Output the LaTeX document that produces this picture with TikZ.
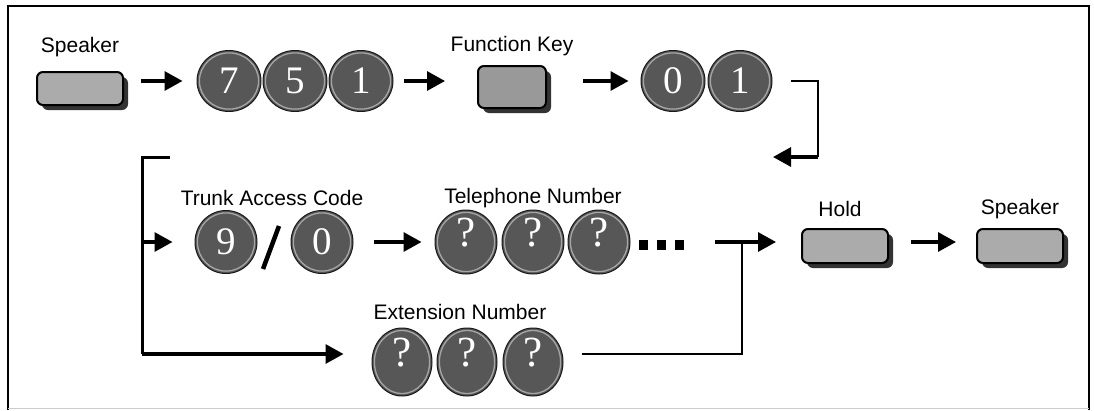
\documentclass[tikz,border=0pt]{standalone}
\usepackage{fontspec}
\newfontfamily\lblfont{Liberation Sans}
\newfontfamily\digfont{Liberation Serif}
\usetikzlibrary{shapes.geometric,arrows.meta,shadows,calc}
\newcommand\btnfont{\digfont\fontsize{39}{39}\selectfont}
\newcommand\qmark{\smash{\raisebox{-4pt}{\fontsize{43}{43}\selectfont ?}}}
\begin{document}
\begin{tikzpicture}[x=1pt,y=-1pt,
  lbl/.style={font=\lblfont\fontsize{21}{21}\selectfont, inner sep=0pt},
  key/.style 2 args={rectangle, rounded corners=6pt, minimum width=#1, minimum height=#2,
     inner sep=0pt, fill=black!33, draw=black, line width=2pt,
     drop shadow={shadow xshift=5pt, shadow yshift=-5pt, fill=black!80, opacity=1}},
  btn/.style 2 args={ellipse, minimum width=#1, minimum height=#2, inner sep=0pt,
     fill=black!66, draw=black!90, line width=1pt, text=white, font=\btnfont,
     path picture={\draw[black!35, line width=1.3pt] (path picture bounding box.center)
        ellipse [x radius={#1/2-2.4pt}, y radius={#2/2-2.4pt}];}},
  arr/.style={line width=3.2pt, -{Triangle[length=18pt,width=19pt]}},
  ln/.style={line width=2.4pt}
]
\useasboundingbox (0,0) rectangle (1094,410);
% frame
\draw[line width=2.8pt] (8,410) -- (8,6) -- (1089,6) -- (1089,410);
\draw[black!20, line width=1pt] (8,408.5) -- (1089,408.5);

% ---- top row
\node[lbl] (lspk1) at (80,47) {Speaker};
\node[key={86pt}{33pt}] (spk1) at (80,88.5) {};
\node[btn={64pt}{61pt}] (b7) at (229,81) {7};
\node[btn={64pt}{61pt}] (b5) at (295,81) {5};
\node[btn={64pt}{61pt}] (b1) at (361,81) {1};
\node[lbl] (lfk) at (512,46) {Function Key};
\node[key={68pt}{42pt}, fill=black!40] (fkey) at (512,87) {};
\node[btn={64pt}{61pt}] (c0) at (673,81) {0};
\node[btn={64pt}{61pt}] (c1) at (740,81) {1};

\draw[arr] ([xshift=17pt]spk1.east |- b7.west) -- ([xshift=-14pt]b7.west);
\draw[arr] ([xshift=10pt]b1.east) -- ([xshift=-32pt]b1.east -| fkey.west);
\draw[arr] ([xshift=36pt]fkey.east |- c0.west) -- ([xshift=-12pt]c0.west);

\coordinate (r1) at (818,157);
\coordinate (r2) at (773,157);
\draw[ln] ([xshift=18pt]c1.east) -| (r1);
\draw[arr] (r1) -- (r2);

% ---- left bracket
\coordinate (l1) at (170,157);
\coordinate (l2) at (142,157);
\coordinate (l3) at (142,354);
\coordinate (l4) at (142,242);
\draw[line width=3pt] (l1) -- (l2) -- (l3);

% ---- middle row
\node[lbl] (ltac) at (272,198) {Trunk Access Code};
\node[btn={62pt}{63pt}] (b9) at (226,242) {9};
\coordinate (s1) at (263,269);
\coordinate (s2) at (279,226);
\draw[line width=4.5pt] (s1) -- (s2);
\node[btn={62pt}{63pt}] (b0) at (322,242) {0};
\node[lbl] (ltel) at (533,198) {Telephone Number};
\node[btn={62pt}{64pt}] (q1) at (466,242) {\qmark};
\node[btn={62pt}{64pt}] (q2) at (533,242) {\qmark};
\node[btn={62pt}{64pt}] (q3) at (599,242) {\qmark};
\fill (638.5,240) rectangle ++(9.5,9.5);
\fill (656.5,240) rectangle ++(9.5,9.5);
\fill (674.5,240) rectangle ++(9.5,9.5);

\draw[arr] (l4) -- ([xshift=-22pt]l4 -| b9.west);
\draw[arr] ([xshift=20pt]b0.east) -- ([xshift=-13pt]q1.west);

\node[lbl] (lhold) at (840,209) {Hold};
\node[key={86pt}{34pt}] (hold) at (845,246) {};
\node[lbl] (lspk2) at (1020,209) {Speaker};
\node[key={86pt}{34pt}] (spk2) at (1020,246) {};

\coordinate (t1) at (715,242);
\coordinate (j1) at (742,242);
\draw[arr] (t1) -- ([xshift=-25pt]t1 -| hold.west);
\draw[arr] ([xshift=22pt]hold.east |- t1) -- ([xshift=-20pt]spk2.west |- t1);

% ---- bottom row
\node[lbl] (lext) at (460,312) {Extension Number};
\node[btn={60pt}{68pt}] (e1) at (402,362) {\qmark};
\node[btn={60pt}{68pt}] (e2) at (467,362) {\qmark};
\node[btn={60pt}{68pt}] (e3) at (533,362) {\qmark};
\draw[arr] (l3) -- ([xshift=-28pt]l3 -| e1.west);
\coordinate (c6) at (742,354);
\draw[ln] ([xshift=18pt]e3.east |- c6) -- (c6) -- (j1);
\end{tikzpicture}
\end{document}
